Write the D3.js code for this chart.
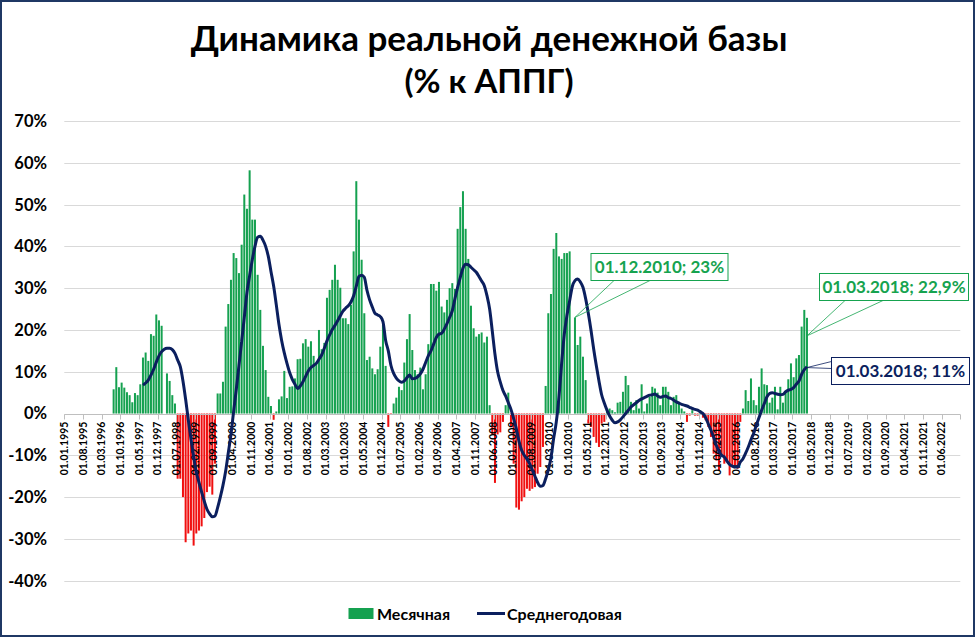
<!DOCTYPE html>
<html><head><meta charset="utf-8">
<script src="https://cdn.jsdelivr.net/npm/d3@7"></script>
<style>
body{margin:0;background:#fff}
svg{display:block}
text{font-family:Lato,'Open Sans',sans-serif;font-weight:700}
</style>
</head><body>
<svg id="c" width="975" height="637"></svg>
<script>
// ---------------- DATA ----------------
const titleLines = ["Динамика реальной денежной базы", "(% к АППГ)"];
const yTicks = [-40, -30, -20, -10, 0, 10, 20, 30, 40, 50, 60, 70];
const tickLabels = ["01.01.1995","01.08.1995","01.03.1996","01.10.1996","01.05.1997","01.12.1997","01.07.1998","01.02.1999","01.09.1999","01.04.2000","01.11.2000","01.06.2001","01.01.2002","01.08.2002","01.03.2003","01.10.2003","01.05.2004","01.12.2004","01.07.2005","01.02.2006","01.09.2006","01.04.2007","01.11.2007","01.06.2008","01.01.2009","01.08.2009","01.03.2010","01.10.2010","01.05.2011","01.12.2011","01.07.2012","01.02.2013","01.09.2013","01.04.2014","01.11.2014","01.06.2015","01.01.2016","01.08.2016","01.03.2017","01.10.2017","01.05.2018","01.12.2018","01.07.2019","01.02.2020","01.09.2020","01.04.2021","01.11.2021","01.06.2022"];
const axisStart = "1995-01", axisEnd = "2023-01";
const seriesNames = ["Месячная", "Среднегодовая"];

// Monthly real money base, % y/y, from 1996-07
const monthlyStart = "1996-07";
const monthly = [
  5.8, 11.1, 6.3, 7.4, 6.2, 5.1,                                   // 1996 07-12
  4.4, 2.7, 4.9, 4.4, 7.0, 13.4, 14.6, 12.6, 19.0, 18.6, 23.7, 22.3, // 1997
  21.0, 0, 9.6, 7.8, 4.4, 2.4, -15.6, -15.6, -20, -30.8, -28.7, -28, // 1998
  -31.6, -28.7, -28, -27, -25, -18.8, -17.5, -19.4, -12, 4.8, 4.8, 7.6, // 1999
  20.8, 26.2, 32, 38.4, 37.2, 33.6, 40.4, 52.4, 49, 58.2, 46.4, 46.4, // 2000
  33.2, 24.8, 16.2, 10.4, 4.0, 1.8, -1.5, 0.5, 3.4, 4.1, 10.2, 3.7,   // 2001
  6.4, 6.5, 8.4, 13, 13.1, 16.8, 17.8, 16, 17.3, 13.8, 12, 20,        // 2002
  15.4, 16.9, 27.7, 29.6, 32, 35.6, 32, 30.1, 22.8, 22.8, 21.4, 26,   // 2003
  38.8, 55.6, 46.4, 36.8, 24, 12.8, 13.6, 10.8, 9.4, 10.6, 16, 21.2,  // 2004
  11.4, -3.2, -0.3, 2.4, 3.8, 6.4, 5.6, 12.2, 17.8, 23.8, 15.2, 10.4, // 2005
  9.4, 11, 5.8, 9.4, 16.6, 31, 31, 29.4, 31.5, 25.6, 24.2, 27.2,      // 2006
  30, 31.2, 29.8, 44.2, 49.4, 53.2, 44.2, 37, 25.8, 20.4, 18.4, 19,   // 2007
  19.4, 17, 18.4, 2.0, -5, -16.6, -5, -4.5, -2, 2, 5, -3,             // 2008
  -12, -22.5, -23, -21, -20, -18, -18.5, -18, -17.6, -14.4, -12.8, -8, // 2009
  6.6, 24, 28.6, 39.4, 43.2, 37.6, 37, 38.4, 38.4, 38.8, 0, 23,       // 2010
  16.4, 18.4, 13.6, 8, -2.4, -3.2, -5.6, -7, -8, -2.4, -2, 0.5,       // 2011
  1.2, 0.8, 0.3, 2.6, 2.8, 5.2, 9, 6.8, 2.8, 0.8, 3.2, 1.2,           // 2012
  7, 0.5, 2.4, 4, 6.4, 6, 5, 2, 6.4, 6.4, 5.2, 2,                     // 2013
  4, 4.4, 2.8, 1.2, 0.5, -2, -0.5, 0.8, -0.5, -0.5, 0.8, -1,          // 2014
  -1.6, -3.2, -5.6, -9.6, -11.2, -13.6, -10, -12, -11.6, -14.8, -12.8, -12.4, // 2015
  -13.2, -2, 1.2, 5.6, 3, 8.4, 3.2, 2, 6.4, 10.8, 7, 6.8,             // 2016
  2.6, 3.8, 6.4, 1, 6.4, 2.6, 5.2, 8.2, 12, 8.7, 13.2, 14,            // 2017
  20.8, 24.8, 22.9                                                  // 2018 01-03
];

// Annual average, % y/y, from 1997-06
const annualStart = "1997-06";
const annual = [
  6.8, 7.3, 8.0, 9.2, 10.6, 12.3, 13.8,                              // 1997 06-12
  14.8, 15.4, 15.6, 15.6, 15.3, 14.4, 12.8, 11.2, 7.8, 3.4, -1.5, -6.1, // 1998
  -10.3, -14, -16.5, -18.8, -21, -22.9, -24, -24.7, -24.5, -22.5, -20, -17.2, // 1999
  -13.8, -9.4, -5, 0.5, 5.8, 11.5, 17.2, 23, 29, 33, 36.8, 40,        // 2000
  42.2, 42.4, 41.5, 40, 37.6, 34, 30.5, 26, 21.3, 17.5, 14.5, 12,     // 2001
  9.8, 8.2, 7, 6, 6.6, 7.6, 8.9, 10.2, 11, 11.5, 12, 13,              // 2002
  14, 15.6, 17.4, 18.8, 20.1, 21.1, 22.2, 23.4, 24.5, 25.2, 25.8, 26.7, // 2003
  28.2, 30.5, 32.8, 33.1, 32.6, 29.5, 27.2, 25.5, 24, 23.6, 23.2, 22, // 2004
  17.5, 15, 11.5, 9.6, 8.5, 7.8, 7.5, 7.8, 8.6, 9.2, 8.3, 8.4,        // 2005
  8.8, 9.5, 10.6, 12.2, 13.8, 15, 16.6, 18.2, 19, 19.2, 20.2, 21.5,   // 2006
  23, 24.6, 27.5, 30.2, 32.6, 34.8, 35.7, 35.6, 35, 34.4, 33.8, 32.8, // 2007
  31.7, 30.6, 28.2, 25, 19.7, 14.2, 10, 7.5, 5.5, 4.2, 2.6, 1,        // 2008
  -1.2, -3.6, -6.6, -8.8, -10, -10.9, -12, -13.5, -15, -16.5, -17.4, -17.2, // 2009
  -15.6, -13.5, -10.6, -6, -2, 4, 12, 19, 23.5, 27, 30.4, 31.8,       // 2010
  32.2, 31.5, 30.2, 27.5, 24, 20, 15.5, 11.5, 7.8, 4.5, 2.5, 0.8,     // 2011
  -0.6, -1.6, -2.2, -2, -1.5, -0.8, 0, 0.8, 1.6, 2.1, 2.6, 3.1,       // 2012
  3.5, 3.8, 4.1, 4.4, 4.5, 4.7, 4.2, 3.9, 4.1, 4.2, 3.8, 3.6,         // 2013
  3.2, 2.8, 2.5, 2.2, 2, 1.8, 1.5, 1.2, 1, 0.8, 0.4, 0,               // 2014
  -1, -2.5, -4, -5.7, -7.6, -9, -10, -10.4, -11.4, -12.2, -12.6, -12.8, // 2015
  -12.8, -11.6, -10.8, -9.5, -8, -6.3, -4.8, -2.8, -1, 0.8, 2.4, 4,   // 2016
  4.8, 5, 4.8, 4.6, 4.5, 4.6, 5.2, 5.6, 5.8, 6.2, 7, 7.8,             // 2017
  9.4, 10.5, 11.2                                                   // 2018 01-03
];

// Callouts: which series/month, text
const callouts = [
  {series: "monthly", month: "2010-12", value: 23,   text: "01.12.2010; 23%"},
  {series: "monthly", month: "2018-03", value: 22.9, text: "01.03.2018; 22,9%"},
  {series: "annual",  month: "2018-03", value: 11,   text: "01.03.2018; 11%"}
];

// ---------------- STYLE ----------------
const GREEN = "#15a150", RED = "#f01010", NAVY = "#0b1f5e", LABEL_GREEN = "#16a34f";
const W = 975, H = 637;
const plot = {left: 64.3, right: 960.3, top: 121, bottom: 580.7};

const svg = d3.select("#c");
svg.append("rect").attr("width", W).attr("height", H).attr("fill", "#fff");

const fmtKey = d3.timeFormat("%Y-%m"), parseKey = d3.timeParse("%Y-%m"), parseTick = d3.timeParse("%d.%m.%Y");
const months = d3.timeMonth.range(parseKey(axisStart), parseKey(axisEnd)).map(fmtKey);
const x = d3.scaleBand().domain(months).range([plot.left, plot.right]).padding(0);
const y = d3.scaleLinear().domain([-40, 70]).range([plot.bottom, plot.top]);
const bw = x.bandwidth();
const cx = k => x(k) + bw / 2;
const crisp = v => Math.round(v) + 0.5;

const barData = monthly.map((v, i) => ({k: fmtKey(d3.timeMonth.offset(parseKey(monthlyStart), i)), v}));
const lineData = annual.map((v, i) => ({k: fmtKey(d3.timeMonth.offset(parseKey(annualStart), i)), v}));

// Title
svg.append("g").selectAll("text").data(titleLines).join("text")
  .attr("x", 489).attr("y", (d, i) => i ? 93 : 51)
  .attr("text-anchor", "middle").attr("font-size", (d, i) => i ? 33 : 35).attr("fill", "#000")
  .text(d => d);

// Grid
svg.append("g").selectAll("line").data(yTicks.filter(d => d !== 0)).join("line")
  .attr("x1", plot.left).attr("x2", plot.right)
  .attr("y1", d => crisp(y(d))).attr("y2", d => crisp(y(d)))
  .attr("stroke", "#d9d9d9").attr("stroke-width", 1);

// Y labels
svg.append("g").selectAll("text").data(yTicks).join("text")
  .attr("x", 47).attr("y", d => y(d)).attr("dy", "0.36em")
  .attr("text-anchor", "end").attr("font-size", 16.5).attr("fill", "#000")
  .text(d => d + "%");

// Bars
const barW = 2.0;
svg.append("g").selectAll("rect").data(barData).join("rect")
  .attr("x", d => cx(d.k) - barW / 2).attr("width", barW)
  .attr("y", d => d.v >= 0 ? y(d.v) : y(0))
  .attr("height", d => Math.abs(y(d.v) - y(0)))
  .attr("fill", d => d.v >= 0 ? GREEN : RED);

// X axis
const y0 = y(0);
const ax = svg.append("g");
ax.append("line").attr("x1", plot.left).attr("x2", plot.right)
  .attr("y1", crisp(y0)).attr("y2", crisp(y0)).attr("stroke", "#bfbfbf");
const ticks = tickLabels.map(t => ({t, k: fmtKey(parseTick(t))}));
ax.selectAll("line.tk").data(ticks.concat([{t: "", k: null}])).join("line").attr("class", "tk")
  .attr("x1", d => d.k ? crisp(x(d.k)) : crisp(plot.right)).attr("x2", d => d.k ? crisp(x(d.k)) : crisp(plot.right))
  .attr("y1", crisp(y0)).attr("y2", crisp(y0) + 5).attr("stroke", "#bfbfbf");
ax.selectAll("text").data(ticks).join("text")
  .attr("transform", d => `translate(${x(d.k)},${y0 + 8}) rotate(-90)`)
  .attr("text-anchor", "end").attr("dy", "0.36em").attr("font-size", 10.5).attr("fill", "#000")
  .text(d => d.t);

// Line
svg.append("path").datum(lineData)
  .attr("d", d3.line().x(d => cx(d.k)).y(d => y(d.v)).curve(d3.curveMonotoneX))
  .attr("fill", "none").attr("stroke", NAVY).attr("stroke-width", 3).attr("stroke-linejoin", "round");

// Callouts
const boxes = [
  {x: 591, y: 253.5, w: 137, h: 27, color: LABEL_GREEN, tail: [614, 650], dy: 0},
  {x: 819.5, y: 273.5, w: 149, h: 27, color: LABEL_GREEN, tail: [845, 883], dy: 18},
  {x: 831.5, y: 357.5, w: 138, h: 27, color: NAVY, tail: null, dy: 0}
];
callouts.forEach((c, i) => {
  const b = boxes[i];
  const g = svg.append("g");
  const ax_ = cx(c.month), ay = y(c.value) + b.dy;
  if (b.tail) {
    b.tail.forEach(tx => g.append("line").attr("x1", tx).attr("y1", b.y + b.h).attr("x2", ax_).attr("y2", ay)
      .attr("stroke", b.color).attr("stroke-width", 0.8));
  } else {
    [b.y + 4, b.y + 11].forEach(ty => g.append("line").attr("x1", b.x).attr("y1", ty).attr("x2", ax_).attr("y2", ay)
      .attr("stroke", b.color).attr("stroke-width", 0.8));
  }
  g.append("rect").attr("x", b.x).attr("y", b.y).attr("width", b.w).attr("height", b.h)
    .attr("fill", "#fff").attr("stroke", b.color).attr("stroke-width", 1);
  g.append("text").attr("x", b.x + b.w / 2).attr("y", b.y + b.h / 2).attr("dy", "0.36em")
    .attr("text-anchor", "middle").attr("font-size", 17).attr("fill", b.color).text(c.text);
});

// Legend
const lg = svg.append("g");
lg.append("rect").attr("x", 348.5).attr("y", 608).attr("width", 25).attr("height", 11).attr("fill", GREEN);
lg.append("text").attr("x", 377).attr("y", 614).attr("dy", "0.36em").attr("font-size", 16).text(seriesNames[0]);
lg.append("line").attr("x1", 477).attr("x2", 505).attr("y1", 613.5).attr("y2", 613.5).attr("stroke", NAVY).attr("stroke-width", 3);
lg.append("text").attr("x", 507).attr("y", 614).attr("dy", "0.36em").attr("font-size", 16).text(seriesNames[1]);

// Border
svg.append("rect").attr("x", 1).attr("y", 1).attr("width", W - 2).attr("height", H - 2)
  .attr("fill", "none").attr("stroke", "#1f3864").attr("stroke-width", 2);
</script>
</body></html>
